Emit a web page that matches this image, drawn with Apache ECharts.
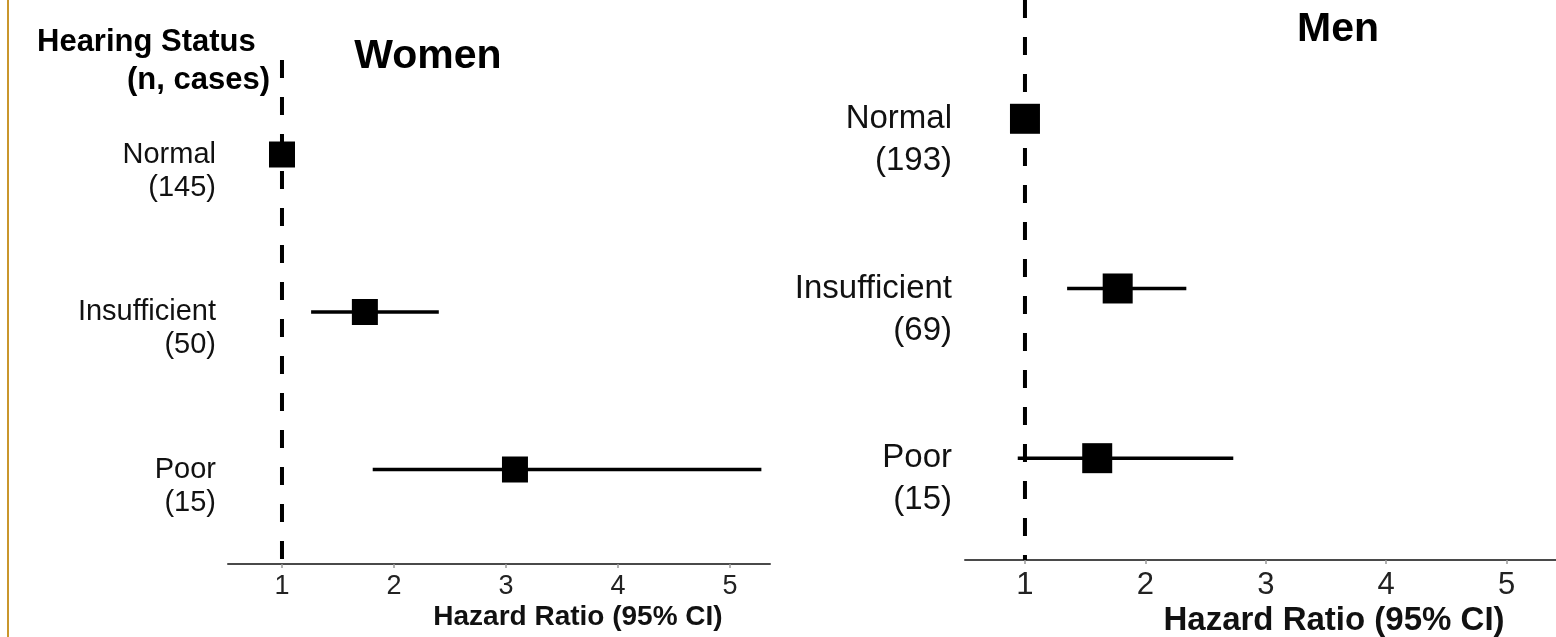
<!DOCTYPE html>
<html>
<head>
<meta charset="utf-8">
<style>
  html, body { margin: 0; padding: 0; background: #ffffff; }
  #chart { width: 1556px; height: 637px; }
</style>
<script src="https://cdn.jsdelivr.net/npm/echarts@6/dist/echarts.min.js"></script>
</head>
<body>
<div id="chart"></div>
<script>
// ---- Data ----
const categories = ['Normal', 'Insufficient', 'Poor'];
const womenCases = [145, 50, 15];
const menCases = [193, 69, 15];
const womenHR = [1.00, 1.74, 3.08];
const womenLow = [null, 1.26, 1.81];
const womenHigh = [null, 2.40, 5.28];
const menHR = [1.00, 1.77, 1.60];
const menLow = [null, 1.35, 0.94];
const menHigh = [null, 2.34, 2.73];
const xTickValues = [1, 2, 3, 4, 5];
const refValue = 1;

const FONT = "'Liberation Sans', Arial, Helvetica, sans-serif";

// row position on the value axis (top row = Normal)
function rowY(i) { return categories.length - i; }

function panelSeries(idx, hr, low, high, yMin, yMax, sqSize) {
  const series = [];
  // dashed reference line at HR = 1
  series.push({
    type: 'line', xAxisIndex: idx, yAxisIndex: idx,
    data: [[refValue, yMax], [refValue, yMin]],
    symbol: 'none', silent: true, z: 2,
    lineStyle: { color: '#000', width: 4, type: [18, 19], opacity: 1 }
  });
  // CI whiskers
  const ciData = [];
  categories.forEach((c, i) => {
    if (low[i] != null && high[i] != null) ciData.push([low[i], high[i], rowY(i)]);
  });
  series.push({
    type: 'custom', xAxisIndex: idx, yAxisIndex: idx, z: 3,
    data: ciData,
    renderItem: function (params, api) {
      const p1 = api.coord([api.value(0), api.value(2)]);
      const p2 = api.coord([api.value(1), api.value(2)]);
      return {
        type: 'line',
        shape: { x1: p1[0], y1: p1[1], x2: p2[0], y2: p2[1] },
        style: { stroke: '#000', lineWidth: 3.5 }
      };
    }
  });
  // point estimates
  series.push({
    type: 'scatter', xAxisIndex: idx, yAxisIndex: idx, z: 4,
    symbol: 'rect', symbolSize: sqSize,
    itemStyle: { color: '#000', opacity: 1 },
    data: categories.map((c, i) => [hr[i], rowY(i)])
  });
  return series;
}

function labelSeries(idx, xMin, cases, labFont, labLH, labDist) {
  return {
    type: 'scatter', xAxisIndex: idx, yAxisIndex: idx, z: 5,
    symbolSize: 0, silent: true,
    itemStyle: { opacity: 1 },
    data: categories.map((c, i) => ({ value: [xMin, rowY(i)], name: c })),
    label: {
      show: true, position: 'left', distance: labDist, offset: [0, labLH / 2],
      formatter: function (p) { return p.name + '\n(' + cases[p.dataIndex] + ')'; },
      fontFamily: FONT, fontSize: labFont, lineHeight: labLH, color: '#111', align: 'right'
    }
  };
}

const W = { xMin: 0.518, xMax: 5.357, yMin: 0.4, yMax: 3.6 };
const M = { xMin: 0.502, xMax: 5.41, yMin: 0.4, yMax: 3.7 };

function xAxisCfg(idx, r, fs, margin) {
  return {
    type: 'value', gridIndex: idx, min: r.xMin, max: r.xMax,
    splitLine: { show: false },
    axisLine: { show: true, onZero: false, lineStyle: { color: '#4a4a4a', width: 2 } },
    axisTick: { show: true, inside: false, length: 4, customValues: xTickValues, lineStyle: { color: '#999', width: 1.5 } },
    axisLabel: { show: true, customValues: xTickValues, fontFamily: FONT, fontSize: fs, color: '#222', margin: margin }
  };
}
function yAxisCfg(idx, r) {
  return {
    type: 'value', gridIndex: idx, min: r.yMin, max: r.yMax,
    axisLine: { show: false }, axisTick: { show: false }, axisLabel: { show: false }, splitLine: { show: false }
  };
}

const chart = echarts.init(document.getElementById('chart'), null, { renderer: 'canvas' });
chart.setOption({
  backgroundColor: '#ffffff',
  animation: false,
  grid: [
    { left: 228, width: 542, top: 60, height: 504 },
    { left: 965, width: 591, top: 0, height: 560 }
  ],
  xAxis: [xAxisCfg(0, W, 27, 9), xAxisCfg(1, M, 31, 10)],
  yAxis: [yAxisCfg(0, W), yAxisCfg(1, M)],
  series: [].concat(
    panelSeries(0, womenHR, womenLow, womenHigh, W.yMin, W.yMax, 26),
    [labelSeries(0, W.xMin, womenCases, 29, 33, 12)],
    panelSeries(1, menHR, menLow, menHigh, M.yMin, M.yMax, 30),
    [labelSeries(1, M.xMin, menCases, 33, 42, 13)]
  ),
  graphic: [
    { type: 'rect', left: 7, top: 0, shape: { width: 2, height: 637 }, style: { fill: '#C9962C' }, silent: true },
    { type: 'text', x: 37, y: 42, style: { text: 'Hearing Status', font: 'bold 31px ' + FONT, fill: '#000', textAlign: 'left', textVerticalAlign: 'middle' } },
    { type: 'text', x: 270, y: 80, style: { text: '(n, cases)', font: 'bold 31px ' + FONT, fill: '#000', textAlign: 'right', textVerticalAlign: 'middle' } },
    { type: 'text', x: 428, y: 57, style: { text: 'Women', font: 'bold 41px ' + FONT, fill: '#000', textAlign: 'center', textVerticalAlign: 'middle' } },
    { type: 'text', x: 1338, y: 30, style: { text: 'Men', font: 'bold 41px ' + FONT, fill: '#000', textAlign: 'center', textVerticalAlign: 'middle' } },
    { type: 'text', x: 578, y: 617, style: { text: 'Hazard Ratio (95% CI)', font: 'bold 28px ' + FONT, fill: '#111', textAlign: 'center', textVerticalAlign: 'middle' } },
    { type: 'text', x: 1334, y: 621, style: { text: 'Hazard Ratio (95% CI)', font: 'bold 33px ' + FONT, fill: '#111', textAlign: 'center', textVerticalAlign: 'middle' } }
  ]
});
</script>
</body>
</html>
